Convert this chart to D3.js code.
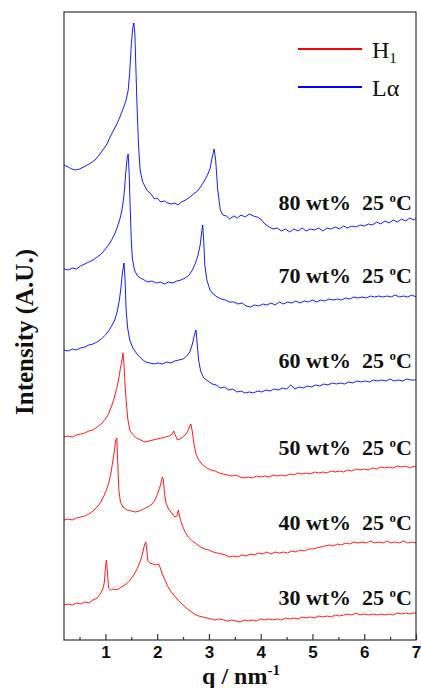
<!DOCTYPE html>
<html>
<head>
<meta charset="utf-8">
<script src="https://cdn.jsdelivr.net/npm/d3@7"></script>
<style>
  html, body { margin: 0; padding: 0; background: #fff; }
  svg { display: block; }
</style>
</head>
<body>
<svg id="chart" width="421" height="688"></svg>
<script>
// ---------------- DATA ----------------
const xTicks = [1, 2, 3, 4, 5, 6, 7];
const xMinorTicks = [0.5, 1.5, 2.5, 3.5, 4.5, 5.5, 6.5];
const legendLabels = ["H1", "Lα"];
const sampleLabels = ["80 wt%", "70 wt%", "60 wt%", "50 wt%", "40 wt%", "30 wt%"];
const sampleTemp = "25";
const samplePhase = ["La", "La", "La", "H1", "H1", "H1"];
const labelLevels = [430, 357, 272, 185, 110, 35];

// [q (nm^-1), intensity (A.U., stacked)]
const curve80 = [[0.20,475],[0.28,473],[0.35,471],[0.42,470],[0.50,471],[0.58,473],[0.65,475],[0.72,477],[0.80,480],[0.88,485],[0.95,490],[1.02,495],[1.09,503],[1.16,510],[1.22,516],[1.28,523],[1.34,531],[1.40,540],[1.44,550],[1.47,568],[1.50,595],[1.53,613],[1.55,617],[1.57,605],[1.59,570],[1.61,535],[1.64,495],[1.67,470],[1.72,458],[1.80,450],[1.88,446],[1.95,441],[2.00,442],[2.07,438],[2.14,439],[2.20,437],[2.27,436],[2.34,437],[2.40,435],[2.47,438],[2.55,440],[2.63,443],[2.70,446],[2.78,449],[2.85,454],[2.92,460],[2.98,466],[3.02,471],[3.06,482],[3.10,491],[3.13,480],[3.17,450],[3.22,430],[3.27,425],[3.34,424],[3.40,421],[3.48,424],[3.55,422],[3.62,425],[3.70,423],[3.78,426],[3.86,424],[3.93,423],[4.00,421],[4.08,416],[4.16,413],[4.24,411],[4.32,412],[4.40,409],[4.48,411],[4.56,408],[4.64,411],[4.72,409],[4.80,412],[4.88,409],[4.96,411],[5.04,410],[5.12,412],[5.20,409],[5.28,412],[5.36,411],[5.44,413],[5.52,411],[5.60,414],[5.68,412],[5.76,414],[5.84,413],[5.92,415],[6.00,414],[6.08,416],[6.16,415],[6.24,418],[6.32,416],[6.40,419],[6.48,417],[6.56,420],[6.64,418],[6.72,421],[6.80,419],[6.88,422],[6.96,420],[7.00,422]];

const curve70 = [[0.20,371],[0.28,370],[0.36,372],[0.44,371],[0.52,374],[0.60,376],[0.68,378],[0.76,380],[0.84,383],[0.92,386],[1.00,391],[1.06,395],[1.12,400],[1.18,406],[1.23,413],[1.28,421],[1.32,430],[1.36,445],[1.39,465],[1.42,482],[1.44,486],[1.46,465],[1.48,430],[1.50,400],[1.52,382],[1.56,370],[1.62,364],[1.68,362],[1.75,360],[1.82,358],[1.90,359],[1.98,357],[2.06,358],[2.14,356],[2.22,358],[2.30,357],[2.38,359],[2.46,360],[2.54,362],[2.62,365],[2.68,370],[2.74,377],[2.79,385],[2.83,395],[2.86,408],[2.88,415],[2.90,398],[2.92,375],[2.96,360],[3.02,350],[3.08,346],[3.16,343],[3.24,341],[3.32,340],[3.40,338],[3.48,338],[3.56,336],[3.64,337],[3.72,334],[3.80,333],[3.88,335],[3.96,334],[4.04,336],[4.12,335],[4.20,337],[4.28,335],[4.36,338],[4.44,336],[4.52,338],[4.60,337],[4.68,339],[4.76,337],[4.84,339],[4.92,338],[5.00,340],[5.08,338],[5.16,340],[5.24,339],[5.32,341],[5.40,340],[5.48,341],[5.56,340],[5.64,342],[5.72,341],[5.80,343],[5.88,342],[5.96,343],[6.04,342],[6.12,344],[6.20,343],[6.28,344],[6.36,343],[6.44,344],[6.52,343],[6.60,345],[6.68,343],[6.76,344],[6.84,343],[6.92,345],[7.00,343]];

const curve60 = [[0.20,290],[0.28,289],[0.36,291],[0.44,290],[0.52,292],[0.60,293],[0.68,295],[0.76,296],[0.84,298],[0.92,301],[1.00,305],[1.06,309],[1.12,314],[1.18,320],[1.23,329],[1.27,340],[1.30,352],[1.33,368],[1.36,377],[1.38,360],[1.40,330],[1.43,312],[1.47,300],[1.53,292],[1.61,286],[1.70,281],[1.78,278],[1.86,277],[1.94,276],[2.02,277],[2.10,276],[2.18,278],[2.26,277],[2.34,279],[2.42,280],[2.50,281],[2.57,284],[2.63,288],[2.68,296],[2.72,305],[2.75,310],[2.77,298],[2.80,280],[2.84,269],[2.90,262],[2.98,259],[3.06,256],[3.14,255],[3.22,252],[3.30,253],[3.38,250],[3.46,251],[3.54,248],[3.62,249],[3.70,247],[3.78,248],[3.86,247],[3.94,249],[4.02,248],[4.10,250],[4.18,249],[4.26,251],[4.34,250],[4.42,252],[4.50,251],[4.58,255],[4.66,251],[4.74,253],[4.82,252],[4.90,254],[4.98,253],[5.06,255],[5.14,254],[5.22,256],[5.30,255],[5.38,257],[5.46,256],[5.54,257],[5.62,256],[5.70,258],[5.78,257],[5.86,259],[5.94,258],[6.02,259],[6.10,258],[6.18,260],[6.26,259],[6.34,260],[6.42,259],[6.50,261],[6.58,259],[6.66,260],[6.74,259],[6.82,261],[6.90,260],[7.00,260]];

const curve50 = [[0.20,203],[0.28,204],[0.36,203],[0.44,205],[0.52,206],[0.60,207],[0.68,209],[0.76,210],[0.84,213],[0.92,216],[1.00,221],[1.06,226],[1.12,234],[1.17,242],[1.22,252],[1.26,262],[1.29,272],[1.32,280],[1.34,287],[1.36,275],[1.38,255],[1.40,240],[1.43,222],[1.47,210],[1.52,206],[1.60,202],[1.68,200],[1.76,198],[1.84,199],[1.92,200],[2.00,201],[2.08,202],[2.16,203],[2.24,204],[2.29,206],[2.32,209],[2.35,205],[2.39,200],[2.44,201],[2.50,203],[2.56,206],[2.60,210],[2.63,214],[2.65,216],[2.68,208],[2.71,196],[2.75,186],[2.80,180],[2.88,175],[2.96,172],[3.04,170],[3.12,169],[3.20,167],[3.28,166],[3.36,165],[3.44,164],[3.52,165],[3.60,163],[3.68,162],[3.76,163],[3.84,162],[3.92,164],[4.00,163],[4.08,164],[4.16,163],[4.24,165],[4.32,164],[4.40,165],[4.48,164],[4.56,166],[4.64,165],[4.72,167],[4.80,166],[4.88,167],[4.96,166],[5.04,168],[5.12,167],[5.20,168],[5.28,167],[5.36,169],[5.44,168],[5.52,169],[5.60,168],[5.68,170],[5.76,169],[5.84,171],[5.92,170],[6.00,171],[6.08,170],[6.16,172],[6.24,171],[6.32,173],[6.40,172],[6.48,173],[6.56,172],[6.64,174],[6.72,173],[6.80,174],[6.88,172],[6.96,174],[7.00,173]];

const curve40 = [[0.20,120],[0.28,121],[0.36,120],[0.44,122],[0.52,123],[0.60,124],[0.68,126],[0.76,129],[0.84,133],[0.90,137],[0.96,143],[1.02,150],[1.07,158],[1.11,168],[1.14,178],[1.17,188],[1.20,200],[1.22,202],[1.24,175],[1.26,150],[1.29,138],[1.34,133],[1.42,130],[1.50,129],[1.58,128],[1.66,129],[1.74,131],[1.82,133],[1.90,136],[1.96,140],[2.02,148],[2.07,156],[2.10,163],[2.12,160],[2.14,147],[2.17,137],[2.22,131],[2.28,127],[2.34,123],[2.38,124],[2.41,130],[2.44,122],[2.48,115],[2.54,108],[2.60,103],[2.68,99],[2.76,96],[2.84,93],[2.92,91],[3.00,90],[3.08,88],[3.16,87],[3.24,86],[3.32,85],[3.40,83],[3.48,84],[3.56,83],[3.64,85],[3.72,84],[3.80,86],[3.88,85],[3.96,87],[4.04,86],[4.12,88],[4.20,86],[4.28,88],[4.36,87],[4.44,88],[4.52,87],[4.60,89],[4.68,88],[4.76,90],[4.84,89],[4.92,91],[5.00,91],[5.08,92],[5.16,93],[5.24,94],[5.32,95],[5.40,94],[5.48,96],[5.56,95],[5.64,97],[5.72,96],[5.80,98],[5.88,97],[5.96,98],[6.04,97],[6.12,99],[6.20,97],[6.28,98],[6.36,97],[6.44,99],[6.52,97],[6.60,98],[6.68,97],[6.76,99],[6.84,97],[6.92,98],[7.00,97]];

const curve30 = [[0.20,35],[0.28,36],[0.36,35],[0.44,37],[0.52,36],[0.60,38],[0.68,37],[0.76,40],[0.84,42],[0.90,46],[0.95,51],[0.98,58],[1.00,72],[1.02,80],[1.04,68],[1.06,52],[1.10,50],[1.16,51],[1.22,50],[1.28,52],[1.34,54],[1.40,56],[1.46,59],[1.52,63],[1.58,68],[1.63,73],[1.68,80],[1.72,87],[1.75,94],[1.78,98],[1.80,90],[1.82,79],[1.86,77],[1.92,76],[1.98,75],[2.03,76],[2.06,72],[2.10,66],[2.15,60],[2.20,54],[2.26,49],[2.32,45],[2.40,40],[2.48,36],[2.56,32],[2.64,29],[2.72,26],[2.80,24],[2.88,23],[2.96,22],[3.04,21],[3.12,20],[3.20,21],[3.28,20],[3.36,19],[3.44,20],[3.52,19],[3.60,18],[3.68,20],[3.76,19],[3.84,20],[3.92,19],[4.00,21],[4.08,20],[4.16,21],[4.24,20],[4.32,21],[4.40,20],[4.48,22],[4.56,21],[4.64,22],[4.72,21],[4.80,23],[4.88,22],[4.96,23],[5.04,22],[5.12,24],[5.20,23],[5.28,24],[5.36,23],[5.44,25],[5.52,24],[5.60,25],[5.68,26],[5.76,25],[5.84,27],[5.92,25],[6.00,26],[6.08,25],[6.16,26],[6.24,25],[6.32,26],[6.40,25],[6.48,26],[6.56,25],[6.64,27],[6.72,26],[6.80,27],[6.88,26],[6.96,27],[7.00,27]];

const curves = [curve80, curve70, curve60, curve50, curve40, curve30];

// ---------------- LAYOUT ----------------
const margin = {left: 64, top: 12, right: 5, bottom: 48};
const W = 421, H = 688;
const pw = W - margin.left - margin.right;   // 352
const ph = H - margin.top - margin.bottom;   // 628
const colors = {H1: "#ff0000", La: "#0000ff"};
const serif = "'Liberation Serif', 'Times New Roman', serif";
const sans = "'Liberation Sans', Arial, sans-serif";

const svg = d3.select("#chart");
const g = svg.append("g").attr("transform", `translate(${margin.left},${margin.top})`);

const x = d3.scaleLinear().domain([0.2, 7]).range([0, pw]);
const y = d3.scaleLinear().domain([0, 628]).range([ph, 0]);

// curves
const line = d3.line().x(d => x(d[0])).y(d => y(d[1]));
const plot = g.append("g");
curves.forEach((c, i) => {
  plot.append("path")
    .datum(c)
    .attr("d", line)
    .attr("fill", "none")
    .attr("stroke", colors[samplePhase[i]])
    .attr("stroke-width", 0.9)
    .attr("stroke-linejoin", "round");
});

// frame
g.append("rect").attr("x", 0).attr("y", 0).attr("width", pw).attr("height", ph)
  .attr("fill", "none").attr("stroke", "#333").attr("stroke-width", 1.2);

// bottom axis (ticks inward)
const xAxis = d3.axisBottom(x).tickValues(xTicks).tickSizeInner(-6).tickSizeOuter(0)
  .tickPadding(13).tickFormat(d3.format("d"));
const ax = g.append("g").attr("transform", `translate(0,${ph})`).call(xAxis);
ax.select(".domain").remove();
ax.selectAll(".tick line").attr("stroke", "#333").attr("stroke-width", 1.2);
ax.selectAll(".tick text").attr("font-family", sans).attr("font-weight", "bold")
  .attr("font-size", 17).attr("fill", "#111").attr("dy", "0.71em").attr("y", 6);

const xMinor = d3.axisBottom(x).tickValues(xMinorTicks).tickSizeInner(-3).tickSizeOuter(0).tickFormat("");
const axm = g.append("g").attr("transform", `translate(0,${ph})`).call(xMinor);
axm.select(".domain").remove();
axm.selectAll(".tick line").attr("stroke", "#333").attr("stroke-width", 1.2);

// x title
const xt = svg.append("text").attr("x", 241).attr("y", 684).attr("text-anchor", "middle")
  .attr("font-family", serif).attr("font-weight", "bold").attr("font-size", 24).attr("fill", "#111");
xt.append("tspan").text("q / nm");
xt.append("tspan").attr("font-size", 15).attr("dy", -9).text("-1");

// y title
svg.append("text").attr("transform", "translate(33,332) rotate(-90)").attr("text-anchor", "middle")
  .attr("font-family", serif).attr("font-weight", "bold").attr("font-size", 25).attr("fill", "#111")
  .text("Intensity (A.U.)");

// sample labels
sampleLabels.forEach((lab, i) => {
  const t = g.append("text").attr("x", pw - 4).attr("y", y(labelLevels[i]))
    .attr("text-anchor", "end").attr("font-family", serif).attr("font-weight", "bold")
    .attr("font-size", 22).attr("fill", "#111");
  t.append("tspan").text(lab + "\u00a0\u00a0" + sampleTemp + " ");
  t.append("tspan").attr("font-size", 13).attr("dy", -8).text("o");
  t.append("tspan").attr("dy", 8).text("C");
});

// legend
const legend = svg.append("g");
const legItems = [{key: "H1", y: 49}, {key: "La", y: 87}];
legItems.forEach((it, i) => {
  legend.append("line").attr("x1", 298).attr("x2", 362).attr("y1", it.y).attr("y2", it.y)
    .attr("stroke", colors[it.key]).attr("stroke-width", 2);
  const t = legend.append("text").attr("x", 372).attr("y", it.y + 9)
    .attr("font-family", serif).attr("font-size", 24).attr("fill", "#111");
  if (it.key === "H1") {
    t.append("tspan").text("H");
    t.append("tspan").attr("font-size", 15).attr("dy", 5).text("1");
  } else {
    t.text(legendLabels[i]);
  }
});
</script>
</body>
</html>
